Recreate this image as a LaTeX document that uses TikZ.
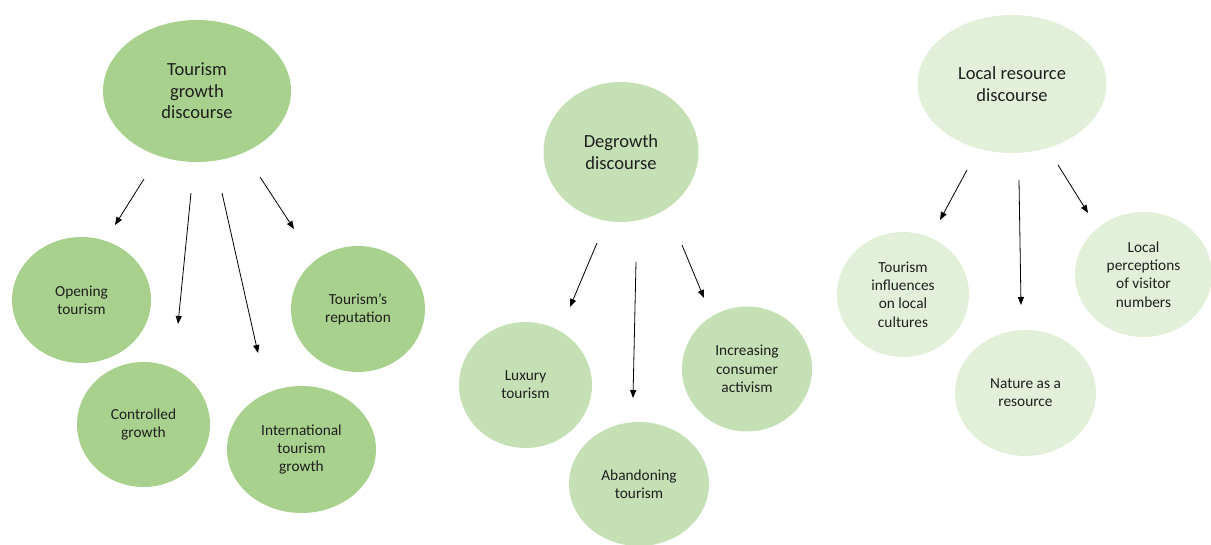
\documentclass[tikz,border=0pt]{standalone}
\usepackage{fontspec}
\setmainfont{Carlito}
\usetikzlibrary{shapes.geometric,arrows.meta}
\definecolor{gA}{HTML}{A9D18E}
\definecolor{gB}{HTML}{C5E0B4}
\definecolor{gC}{HTML}{E2F0D9}
\definecolor{ink}{HTML}{1F1F1F}
\begin{document}
\begin{tikzpicture}[x=0.75pt,y=-0.75pt,
  topic/.style={ellipse,inner sep=0pt,draw=none,text=ink,align=center,
    font=\fontsize{13.9pt}{16.1pt}\selectfont},
  theme/.style={ellipse,inner sep=0pt,draw=none,text=ink,align=center,
    font=\fontsize{11.5pt}{13.7pt}\selectfont},
  size/.style n args={2}{minimum width=#1,minimum height=#2},
  link/.style={draw=black,line width=0.6pt,-{Triangle[length=6pt,width=4.6pt]}}]
\useasboundingbox (0,0) rectangle (1211,545);

% ---- tourism growth discourse ----
\node[topic,fill=gA,size={188*0.75pt}{142*0.75pt}] (tg) at (197,91) {Tourism\\growth\\discourse};
\node[theme,fill=gA,size={139*0.75pt}{126*0.75pt}] (open) at (81.5,300) {Opening\\tourism};
\node[theme,fill=gA,size={133*0.75pt}{125*0.75pt}] (ctrl) at (143.5,424.5) {Controlled\\growth};
\node[theme,fill=gA,size={149*0.75pt}{127*0.75pt}] (intl) at (301.5,449.5) {International\\tourism\\growth};
\node[theme,fill=gA,size={134*0.75pt}{126*0.75pt}] (rep) at (358,309) {Tourism’s\\reputation};

\coordinate (a1s) at (144,179); \coordinate (a1e) at (115,225);
\coordinate (a2s) at (191,193); \coordinate (a2e) at (178,324);
\coordinate (a3s) at (222,193); \coordinate (a3e) at (258,353);
\coordinate (a4s) at (260,177); \coordinate (a4e) at (294,229);
\draw[link] (a1s) -- (a1e);
\draw[link] (a2s) -- (a2e);
\draw[link] (a3s) -- (a3e);
\draw[link] (a4s) -- (a4e);

% ---- degrowth discourse ----
\node[topic,fill=gB,size={155*0.75pt}{140*0.75pt}] (dg) at (621,152) {Degrowth\\discourse};
\node[theme,fill=gB,size={133*0.75pt}{126*0.75pt}] (lux) at (525.5,385) {Luxury\\tourism};
\node[theme,fill=gB,size={140*0.75pt}{124*0.75pt}] (aban) at (639,484) {Abandoning\\tourism};
\node[theme,fill=gB,size={130*0.75pt}{125*0.75pt}] (act) at (747,369) {Increasing\\consumer\\activism};

\coordinate (b1s) at (597,243); \coordinate (b1e) at (570,307);
\coordinate (b2s) at (636,262); \coordinate (b2e) at (633,398);
\coordinate (b3s) at (682,245); \coordinate (b3e) at (704,298);
\draw[link] (b1s) -- (b1e);
\draw[link] (b2s) -- (b2e);
\draw[link] (b3s) -- (b3e);

% ---- local resource discourse ----
\node[topic,fill=gC,size={189*0.75pt}{138*0.75pt}] (lr) at (1012,84) {Local resource\\discourse};
\node[theme,fill=gC,size={132*0.75pt}{125*0.75pt}] (cult) at (903,294.5) {Tourism\\influences\\on local\\cultures};
\node[theme,fill=gC,size={141*0.75pt}{126*0.75pt}] (nat) at (1025.5,393) {Nature as a\\resource};
\node[theme,fill=gC,size={137*0.75pt}{125*0.75pt}] (perc) at (1143.5,274.5) {Local\\perceptions\\of visitor\\numbers};

\coordinate (c1s) at (967,170); \coordinate (c1e) at (940,220);
\coordinate (c2s) at (1019,180); \coordinate (c2e) at (1021,305);
\coordinate (c3s) at (1058,165); \coordinate (c3e) at (1088,213);
\draw[link] (c1s) -- (c1e);
\draw[link] (c2s) -- (c2e);
\draw[link] (c3s) -- (c3e);
\end{tikzpicture}
\end{document}
